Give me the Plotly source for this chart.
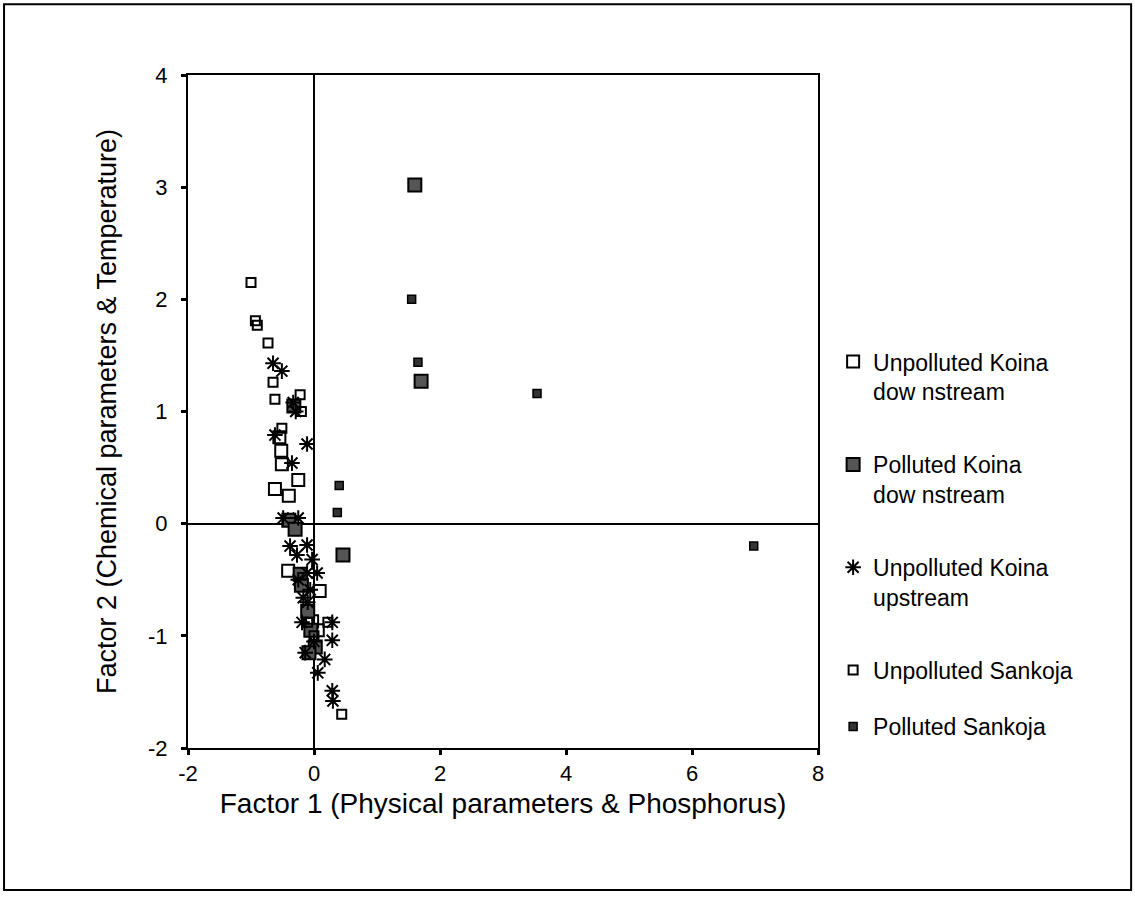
import plotly.graph_objects as go

# Unpolluted Koina downstream (large open squares)
ukd_x = [-0.52, -0.51, -0.62, -0.40, -0.41, 0.09, -0.03, 0.06, -0.55, -0.25]
ukd_y = [0.65, 0.53, 0.31, 0.25, -0.42, -0.60, -0.87, -0.95, 0.77, 0.39]

# Polluted Koina downstream (large grey squares)
pkd_x = [1.60, 1.70, 0.46, -0.32, -0.40, -0.30, -0.22, -0.20, -0.10, -0.05, 0.02, -0.08]
pkd_y = [3.02, 1.27, -0.28, 1.05, 0.03, -0.05, -0.45, -0.55, -0.78, -0.95, -1.10, -1.15]

# Unpolluted Koina upstream (asterisks)
uku_x = [-0.65, -0.51, -0.33, -0.29, -0.11, -0.35, -0.62, -0.49, -0.25, -0.38, -0.11,
         -0.27, -0.03, -0.11, 0.05, -0.06, -0.17, -0.10, -0.19, 0.29, 0.29, -0.14,
         0.17, 0.06, 0.29, 0.30, 0.00, -0.25]
uku_y = [1.43, 1.36, 1.08, 1.00, 0.71, 0.54, 0.79, 0.05, 0.05, -0.20, -0.19,
         -0.28, -0.32, -0.44, -0.44, -0.59, -0.66, -0.70, -0.88, -0.88, -1.04, -1.15,
         -1.21, -1.33, -1.49, -1.58, -1.05, -0.50]

# Unpolluted Sankoja (small open squares)
us_x = [-1.00, -0.93, -0.90, -0.73, -0.65, -0.62, -0.22, -0.51, 0.44, -0.10, 0.22, 0.00, -0.20]
us_y = [2.15, 1.81, 1.77, 1.61, 1.26, 1.11, 1.15, 0.85, -1.70, -0.88, -0.88, -1.00, 1.00]

# Polluted Sankoja (small dark squares)
ps_x = [1.55, 1.65, 3.54, 0.40, 0.37, 6.98]
ps_y = [2.00, 1.44, 1.16, 0.34, 0.10, -0.20]

names = ["Unpolluted Koina<br>dow nstream",
         "Polluted Koina<br>dow nstream",
         "Unpolluted Koina<br>upstream",
         "Unpolluted Sankoja",
         "Polluted Sankoja"]

x_ticks = [-2, 0, 2, 4, 6, 8]
x_labels = ["-2", "0", "2", "4", "6", "8"]
y_ticks = [-2, -1, 0, 1, 2, 3, 4]
y_labels = ["-2", "-1", "0", "1", "2", "3", "4"]

fig = go.Figure()
fig.add_trace(go.Scatter(x=ukd_x, y=ukd_y, mode="markers", name=names[0], legendgroup="a",
                         marker=dict(symbol="square-open", size=12, color="black",
                                     line=dict(width=2, color="black"))))
fig.add_trace(go.Scatter(x=pkd_x, y=pkd_y, mode="markers", name=names[1], legendgroup="b",
                         marker=dict(symbol="square", size=13, color="#555555",
                                     line=dict(width=2, color="black"))))
fig.add_trace(go.Scatter(x=uku_x, y=uku_y, mode="markers", name=names[2], legendgroup="c",
                         marker=dict(symbol="asterisk-open", size=13, color="black",
                                     line=dict(width=2, color="black"))))
fig.add_trace(go.Scatter(x=us_x, y=us_y, mode="markers", name=names[3], legendgroup="d",
                         marker=dict(symbol="square-open", size=9, color="black",
                                     line=dict(width=2, color="black"))))
fig.add_trace(go.Scatter(x=ps_x, y=ps_y, mode="markers", name=names[4], legendgroup="e",
                         legend="legend2",
                         marker=dict(symbol="square", size=8, color="#333333",
                                     line=dict(width=1.5, color="black"))))

axis_common = dict(showline=True, linecolor="black", linewidth=2, mirror=True,
                   showgrid=False, zeroline=True, zerolinecolor="black", zerolinewidth=2,
                   ticks="outside", ticklen=5, tickwidth=3, tickcolor="black",
                   tickfont=dict(family="Liberation Sans", size=22, color="black"))

legend_common = dict(xanchor="left", yanchor="top",
                     font=dict(size=23, color="black"), valign="top",
                     tracegroupgap=40, bgcolor="rgba(0,0,0,0)")

fig.update_layout(
    width=1135, height=901,
    margin=dict(l=188, r=317, t=75, b=153),
    paper_bgcolor="white", plot_bgcolor="white",
    font=dict(family="Liberation Sans", color="black"),
    xaxis=dict(range=[-2, 8], tickvals=x_ticks, ticktext=x_labels,
               ticklabelstandoff=0,
               title=dict(text="Factor 1 (Physical parameters & Phosphorus)",
                          font=dict(size=28), standoff=8),
               **axis_common),
    yaxis=dict(range=[-2, 4], tickvals=y_ticks, ticktext=y_labels,
               ticklabelstandoff=9,
               title=dict(text="Factor 2 (Chemical parameters & Temperature)",
                          font=dict(size=27), standoff=24),
               **axis_common),
    legend=dict(x=1.024, y=0.606, **legend_common),
    legend2=dict(x=1.024, y=0.064, **legend_common),
    shapes=[dict(type="rect", xref="paper", yref="paper",
                 x0=-0.292, x1=1.497, y0=-0.211, y1=1.105,
                 line=dict(color="black", width=2))],
)

fig.write_html("out.html")
